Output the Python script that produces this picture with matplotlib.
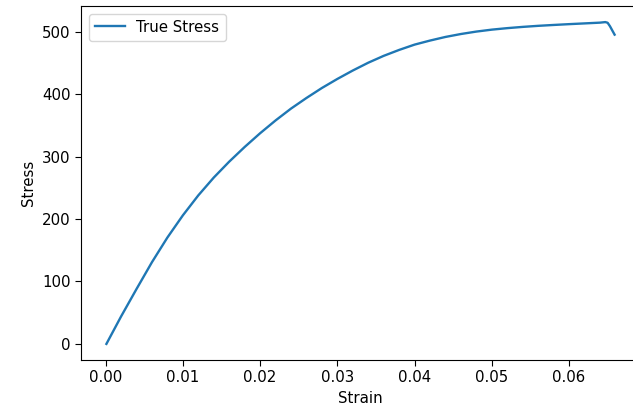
import matplotlib
matplotlib.use("Agg")
import matplotlib.pyplot as plt

# values
strain = [0.0001, 0.002, 0.004, 0.006, 0.008, 0.010, 0.012, 0.014,
          0.016, 0.018, 0.020, 0.022, 0.024, 0.026, 0.028, 0.030,
          0.032, 0.034, 0.036, 0.038, 0.040, 0.042, 0.044, 0.046,
          0.048, 0.050, 0.052, 0.054, 0.056, 0.058, 0.060, 0.062,
          0.064, 0.0647, 0.0650, 0.0653, 0.0659]
stress = [0.0, 44.0, 88.0, 131.0, 170.5, 206.0, 238.0, 266.5,
          292.0, 315.5, 337.5, 358.0, 377.0, 394.0, 410.0, 424.5,
          438.0, 450.5, 461.5, 471.0, 479.5, 486.0, 491.8, 496.5,
          500.4, 503.5, 505.9, 507.9, 509.6, 511.0, 512.3, 513.5,
          514.7, 515.6, 514.5, 509.0, 495.5]

plt.rcParams["font.size"] = 10.8

fig = plt.figure(figsize=(6.33, 4.12), dpi=100)
ax = fig.add_axes([81 / 633, 52 / 412, 559 / 633, 354 / 412])
ax.plot(strain, stress, lw=1.7, label="True Stress")
ax.set_xlabel("Strain")
ax.set_ylabel("Stress")
ax.tick_params(length=4)
ax.legend(loc="upper left")
fig.savefig("out.png", dpi=100)
